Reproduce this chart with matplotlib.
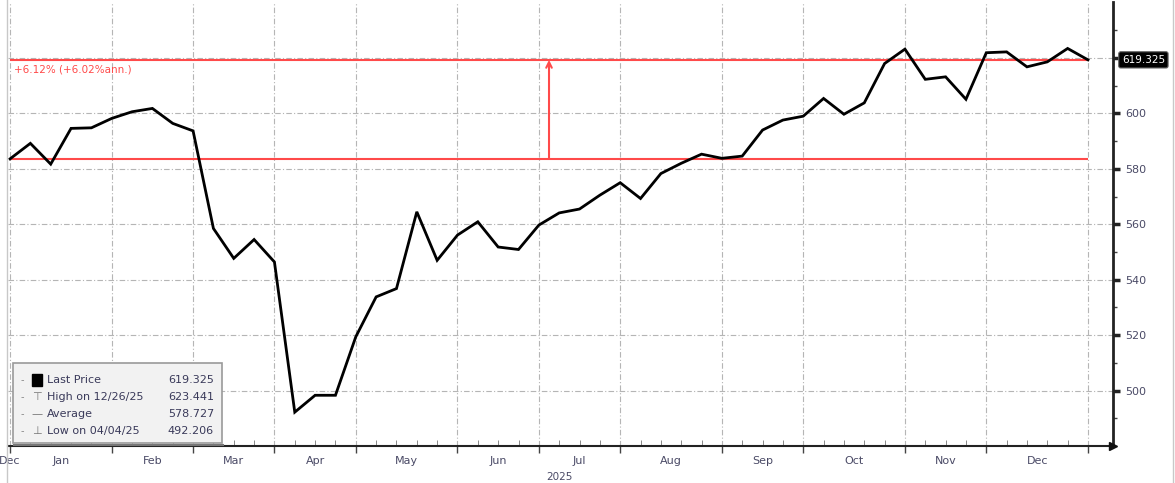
import matplotlib
matplotlib.use("Agg")
import matplotlib.pyplot as plt
import matplotlib.transforms as mtransforms
from matplotlib.patches import FancyBboxPatch, Rectangle
from matplotlib.lines import Line2D
import pandas as pd

# ---------------- data ----------------
start_date = "2024-12-27"
n_weeks = 54
prices = [583.6, 589.2, 581.7, 594.6, 594.8, 598.2, 600.6, 601.8, 596.4, 593.7,
          558.5, 547.7, 554.5, 546.4, 492.206, 498.3, 498.3, 519.4, 533.8, 536.8,
          564.5, 547.0, 556.1, 560.9, 551.8, 550.9, 559.7, 564.1, 565.5, 570.5,
          575.0, 569.3, 578.3, 582.0, 585.3, 583.8, 584.6, 594.0, 597.6, 599.0,
          605.4, 599.7, 603.8, 618.0, 623.2, 612.3, 613.2, 605.1, 621.9, 622.2,
          616.8, 618.6, 623.441, 619.325]
y_ticks = [500, 520, 540, 560, 580, 600, 620]
y_tick_labels = ["500", "520", "540", "560", "580", "600", ""]
year_label = "2025"
legend_labels = ["Last Price", "High on 12/26/25", "Average", "Low on 04/04/25"]
legend_values = ["619.325", "623.441", "578.727", "492.206"]
change_text = "+6.12% (+6.02%ann.)"

dates = pd.date_range(start_date, periods=n_weeks, freq="7D")
idx = list(range(n_weeks))

W, H = 1175, 483
fig = plt.figure(figsize=(W / 100, H / 100), dpi=100)
fig.patch.set_facecolor("white")

def fx(x):
    return x / W

def fy(y):
    return 1 - y / H

ax = fig.add_axes([fx(8), fy(446), fx(1113) - fx(8), fy(2) - fy(446)])
ax.set_facecolor("white")
ax.set_xlim(-0.1, 54.23)
ax.set_ylim(480, 640.2)

# month boundaries (last weekly point of each month), final one at the last point
bounds = [i for i in range(n_weeks - 1) if dates[i].month != dates[i + 1].month]
bounds[-1] = n_weeks - 1

grid_kw = dict(color="#b5b5b5", lw=0.8, ls=(0, (5, 2, 1, 2)))
for b in bounds:
    ax.axvline(b, **grid_kw, zorder=1)
for t in y_ticks:
    ax.axhline(t, **grid_kw, zorder=1)

# price line
ax.plot(idx, prices, color="black", lw=2.0, zorder=4, solid_joinstyle="miter")

# difference tool (red)
red = "#ff4a4a"
first, last = prices[0], prices[-1]
ax.hlines([first, last], 0, n_weeks - 1, color=red, lw=1.5, zorder=3)
mid = (n_weeks - 1) / 2
ax.annotate("", xy=(mid, last), xytext=(mid, first),
            arrowprops=dict(arrowstyle="->", color=red, lw=1.5,
                            shrinkA=0, shrinkB=0, mutation_scale=10), zorder=3)
ax.annotate(change_text, xy=(0.2, last), xytext=(0, -3), textcoords="offset points",
            color=red, fontsize=7.5, va="top", ha="left", zorder=5)

# spines
for s in ["top", "left"]:
    ax.spines[s].set_visible(False)
ax.spines["right"].set_color("#222222")
ax.spines["right"].set_linewidth(2)
ax.spines["bottom"].set_color("#222222")
ax.spines["bottom"].set_linewidth(1.5)

# y axis on right
ax.yaxis.tick_right()
ax.set_yticks(y_ticks)
ax.set_yticklabels(y_tick_labels)
ax.set_yticks(list(range(490, 640, 10)), minor=True)
ax.tick_params(axis="y", which="major", direction="out", length=5, width=2.5,
               colors="#222222", labelcolor="#4a4a66", labelsize=8, pad=4)
ax.tick_params(axis="y", which="minor", direction="out", length=3, width=1,
               colors="#444444")

# x axis
ax.set_xticks(bounds)
ax.set_xticklabels([""] * len(bounds))
ax.set_xticks(idx, minor=True)
ax.tick_params(axis="x", which="major", direction="out", length=5, width=1,
               colors="#444444")
ax.tick_params(axis="x", which="minor", direction="in", length=4, width=0.7,
               colors="#888888")

# month labels centred between boundaries
label_pos = [0] + [(bounds[k] + bounds[k + 1]) / 2 for k in range(len(bounds) - 1)]
label_txt = [dates[0].strftime("%b")] + [dates[bounds[k] + 1].strftime("%b")
                                          for k in range(len(bounds) - 1)]
xtrans = ax.get_xaxis_transform()
for p, t in zip(label_pos, label_txt):
    ax.text(p, -0.022, t, transform=xtrans, ha="center", va="top",
            fontsize=8, color="#4a4a66", clip_on=False)
ax.text(0.5 * (bounds[0] + bounds[-1]) + 0.5, -0.058, year_label, transform=xtrans,
        ha="center", va="top", fontsize=7.5, color="#4a4a66", clip_on=False)

# arrow at right end of x axis
ax.plot([1.0], [0.0], marker=">", color="#111111", markersize=6,
        transform=ax.transAxes, clip_on=False, zorder=6)

# last price tag
ytrans = ax.get_yaxis_transform()
ax.text(1.008, last, f"{last:.3f}", transform=ytrans, ha="left", va="center",
        fontsize=7.5, color="white", clip_on=False, zorder=7,
        bbox=dict(boxstyle="round,pad=0.3,rounding_size=0.2", fc="black", ec="#666666", lw=0.8))

# figure border lines
fig.add_artist(Line2D([fx(7), fx(7)], [0, 1], color="#c8c8c8", lw=1))
fig.add_artist(Line2D([fx(1173), fx(1173)], [0, 1], color="#c8c8c8", lw=1))

# legend box
box = FancyBboxPatch((fx(13), fy(443)), fx(222) - fx(13), fy(363) - fy(443),
                     boxstyle="square,pad=0", transform=fig.transFigure,
                     fc="#f2f2f2", ec="#9a9a9a", lw=1.2, zorder=10)
fig.add_artist(box)
shadow = Line2D([fx(14), fx(223)], [fy(444.5), fy(444.5)], color="#777777", lw=1.5,
                transform=fig.transFigure, zorder=9)
fig.add_artist(shadow)

rows_y = [380, 397, 414, 431]
symbols = ["", "\u22a4", "\u2014", "\u22a5"]
txtc = "#3a3a5a"
for k, (lab, val, ry) in enumerate(zip(legend_labels, legend_values, rows_y)):
    fig.text(fx(22), fy(ry), "-", fontsize=7, color="#888888", ha="center",
             va="center", zorder=11)
    if k == 0:
        fig.add_artist(Rectangle((fx(32), fy(ry + 6)), fx(10), fy(ry - 6) - fy(ry + 6),
                                 transform=fig.transFigure, fc="black", ec="black",
                                 zorder=11))
    else:
        fig.text(fx(37), fy(ry), symbols[k], fontsize=8, color="#777777",
                 ha="center", va="center", zorder=11)
    fig.text(fx(47), fy(ry), lab, fontsize=8, color=txtc, ha="left", va="center",
             zorder=11)
    fig.text(fx(214), fy(ry), val, fontsize=8, color=txtc, ha="right", va="center",
             zorder=11)

fig.savefig("out.png", dpi=100, facecolor="white")
